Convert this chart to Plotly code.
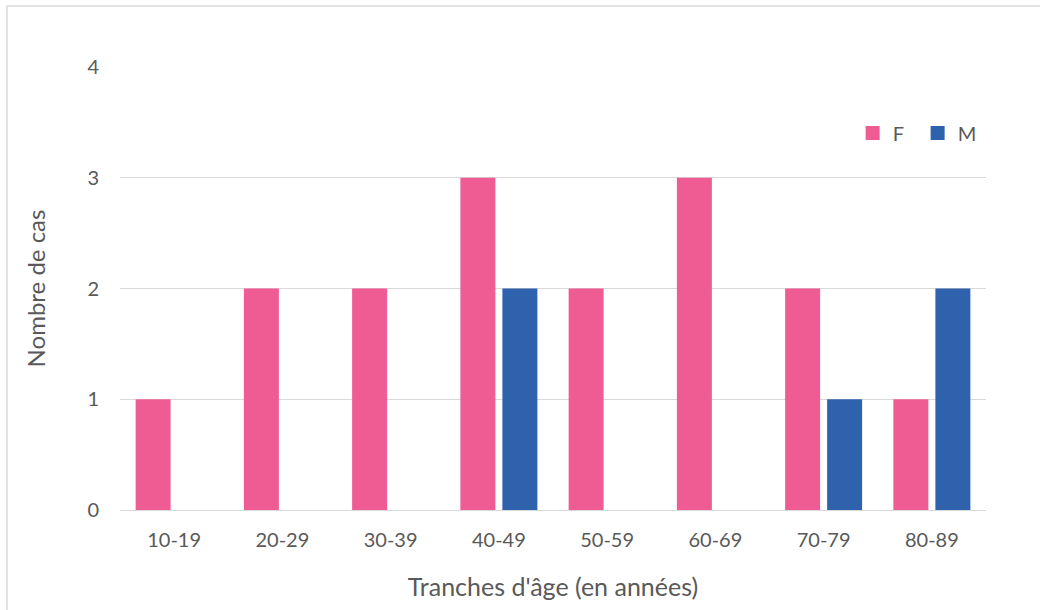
import plotly.graph_objects as go

categories = ["10-19", "20-29", "30-39", "40-49", "50-59", "60-69", "70-79", "80-89"]
f_values = [1, 2, 2, 3, 2, 3, 2, 1]
m_values = [0, 0, 0, 2, 0, 0, 1, 2]
y_ticks = [0, 1, 2, 3, 4]

PINK = "#EF5B93"
BLUE = "#2E62AD"
GRAY_TXT = "#595959"
GRID = "#D9D9D9"
FONT = "Lato, 'Open Sans', sans-serif"

fig = go.Figure()
fig.add_trace(go.Bar(name="F", x=categories, y=f_values, showlegend=False,
                     marker=dict(color=PINK, line=dict(width=0))))
fig.add_trace(go.Bar(name="M", x=categories, y=m_values, showlegend=False,
                     marker=dict(color=BLUE, line=dict(width=0))))
# legend entries with 14px square swatches
fig.add_trace(go.Scatter(name="F", x=[None], y=[None], mode="markers",
                         marker=dict(symbol="square", size=14, color=PINK)))
fig.add_trace(go.Scatter(name="M", x=[None], y=[None], mode="markers",
                         marker=dict(symbol="square", size=14, color=BLUE)))

fig.update_layout(
    width=1040, height=610,
    margin=dict(l=120, r=54, t=67, b=100),
    paper_bgcolor="white", plot_bgcolor="white",
    barmode="group", bargap=0.224, bargroupgap=0.167,
    font=dict(family=FONT, color=GRAY_TXT, size=20),
    legend=dict(orientation="h", x=0.846, y=0.851, xanchor="left", yanchor="middle",
                font=dict(size=20, color=GRAY_TXT), entrywidth=20, entrywidthmode="pixels",
                bgcolor="rgba(0,0,0,0)"),
    xaxis=dict(showgrid=False, showline=False, ticks="", tickfont=dict(size=20, color=GRAY_TXT),
               ticklabelstandoff=16,
               title=dict(text="Tranches d'âge (en années)", font=dict(size=25, color=GRAY_TXT), standoff=28)),
    yaxis=dict(range=[0, 4], tickvals=y_ticks, showgrid=True, gridcolor=GRID, gridwidth=1.3,
               zeroline=True, zerolinecolor=GRID, zerolinewidth=1.3, showline=False, ticks="",
               ticklabelstandoff=20, tickfont=dict(size=20, color=GRAY_TXT),
               title=dict(text="Nombre de cas", font=dict(size=24, color=GRAY_TXT), standoff=34)),
    shapes=[
        dict(type="line", xref="paper", yref="paper", x0=-0.1305, x1=-0.1305, y0=-0.25, y1=1.1377,
             line=dict(color=GRID, width=1.5), layer="below"),
        dict(type="line", xref="paper", yref="paper", x0=-0.1305, x1=1.5, y0=1.1377, y1=1.1377,
             line=dict(color=GRID, width=1.5), layer="below"),
    ],
)

fig.write_html("out.html", config={"displayModeBar": False},
               post_script="document.body.style.margin='0';document.body.style.overflow='hidden';"
                           "document.documentElement.style.overflow='hidden';")
